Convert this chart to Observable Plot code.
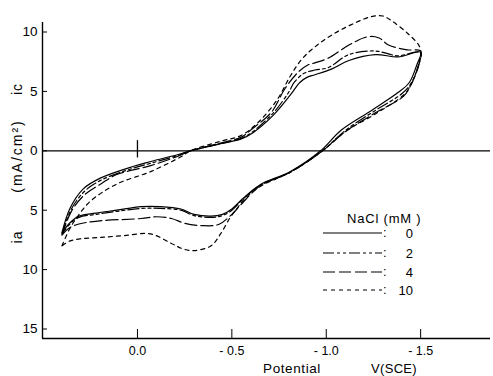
<!DOCTYPE html>
<html><head><meta charset="utf-8">
<script src="https://cdn.jsdelivr.net/npm/d3@7"></script>
<script src="https://cdn.jsdelivr.net/npm/@observablehq/plot@0.6"></script>
<style>body{margin:0;background:#fff} svg{display:block}</style>
</head><body><div id="chart"></div>
<script>
// x value = -E (V vs SCE); current density in mA/cm2: ic positive, ia negative
const naclLevels = ["0", "2", "4", "10"];
const dashPatterns = [null, "11,3,3,3,3,3", "12,4", "4,4"];

const potential0 = [-0.40,-0.356,-0.287,-0.197,-0.02,0.07,0.23,0.28,0.44,0.55,0.61,0.72,0.81,0.86,0.90,0.94,1.03,1.12,1.26,1.38,1.5,
  1.48,1.44,1.38,1.24,1.08,0.97,0.81,0.65,0.56,0.50,0.45,0.39,0.30,0.23,0.12,0.02,-0.11,-0.22,-0.31,-0.36,-0.40];
const current0 = [-6.9,-4.8,-3.2,-2.3,-1.3,-0.9,-0.25,0,0.6,1.0,1.5,3.0,4.7,5.75,6.2,6.4,6.9,7.6,8.1,7.9,8.3,
  7.25,5.75,4.9,3.4,1.75,0,-1.75,-2.85,-4.0,-4.9,-5.35,-5.5,-5.35,-4.9,-4.7,-4.7,-5.0,-5.25,-5.5,-6.1,-6.9];

const potential2 = [-0.40,-0.35,-0.28,-0.19,-0.02,0.07,0.23,0.28,0.44,0.55,0.61,0.72,0.80,0.83,0.88,0.94,1.01,1.12,1.26,1.38,1.5,
  1.49,1.45,1.40,1.26,1.10,0.98,0.81,0.65,0.56,0.50,0.45,0.39,0.30,0.23,0.12,0.02,-0.11,-0.22,-0.31,-0.36,-0.40];
const current2 = [-7.0,-4.9,-3.4,-2.45,-1.45,-1.05,-0.3,0,0.6,1.05,1.6,3.2,4.9,5.75,6.5,6.8,7.0,8.1,8.4,8.0,8.3,
  7.3,5.7,4.8,3.4,1.7,0,-1.8,-2.9,-4.05,-5.0,-5.45,-5.6,-5.45,-5.0,-4.85,-4.85,-5.1,-5.35,-5.6,-6.2,-7.0];

const potential4 = [-0.40,-0.35,-0.28,-0.19,-0.11,0.07,0.23,0.28,0.44,0.55,0.60,0.71,0.78,0.85,0.90,0.94,1.01,1.12,1.22,1.28,1.33,1.43,1.5,
  1.49,1.45,1.41,1.26,1.10,0.98,0.81,0.65,0.55,0.50,0.43,0.34,0.25,0.18,0.10,0.02,-0.2,-0.32,-0.37,-0.40];
const current4 = [-7.1,-5.1,-3.7,-2.75,-2.0,-1.25,-0.35,0,0.65,1.15,1.75,3.25,5.2,6.6,7.2,7.4,7.8,8.9,9.6,9.5,8.9,8.5,8.4,
  7.2,5.6,4.6,3.2,1.6,0,-1.8,-2.95,-4.5,-5.35,-6.2,-6.3,-6.1,-5.7,-5.55,-5.7,-5.9,-6.2,-6.6,-7.1];

const potential10 = [-0.40,-0.36,-0.32,-0.25,-0.11,0.07,0.23,0.28,0.44,0.55,0.64,0.74,0.81,0.87,0.94,1.03,1.13,1.24,1.30,1.35,1.43,1.49,1.5,
  1.49,1.45,1.41,1.27,1.10,0.98,0.81,0.65,0.57,0.53,0.49,0.44,0.39,0.30,0.24,0.18,0.07,-0.08,-0.20,-0.30,-0.36,-0.40];
const current10 = [-8.0,-6.6,-5.6,-4.25,-2.8,-1.75,-0.5,0,0.8,1.3,2.4,4.3,6.3,7.7,8.75,9.75,10.6,11.3,11.35,10.9,9.9,8.9,8.4,
  7.3,5.6,4.7,3.2,1.6,0,-1.8,-3.0,-4.0,-4.8,-5.65,-7.0,-8.0,-8.4,-8.25,-7.8,-7.0,-7.15,-7.3,-7.4,-7.6,-8.0];

const xTicks = [0, 0.5, 1.0, 1.5];
const yTicks = [10, 5, 0, -5, -10, -15];
const xDomain = [-0.503, 1.87];
const yDomain = [-15.8, 10.8];

const curves = [
  {nacl: "0", x: potential0, y: current0},
  {nacl: "2", x: potential2, y: current2},
  {nacl: "4", x: potential4, y: current4},
  {nacl: "10", x: potential10, y: current10}
];
const rows = c => c.x.map((x, i) => ({nacl: c.nacl, potential: x, current: c.y[i]}));

const font = "Liberation Sans, Arial, sans-serif";
const chart = Plot.plot({
  width: 493, height: 376,
  marginLeft: 42, marginRight: 3, marginTop: 22, marginBottom: 38,
  style: {fontFamily: font, fontSize: "13px", background: "#fff", color: "#000"},
  x: {domain: xDomain},
  y: {domain: yDomain},
  marks: [
    Plot.ruleY([0], {strokeWidth: 1.3}),
    Plot.ruleX([0], {y1: -0.6, y2: 0.85, strokeWidth: 1.3}),
    ...curves.map((c, i) => Plot.line(rows(c), {
      x: "potential", y: "current", curve: "catmull-rom",
      stroke: "#000", strokeWidth: 1.2, strokeDasharray: dashPatterns[i]
    })),
    Plot.ruleX([xDomain[0]], {strokeWidth: 1.4}),
    Plot.ruleY([yDomain[0]], {strokeWidth: 1.4}),
    Plot.axisY(yTicks, {tickSize: -5, tickPadding: 10, tickFormat: d => String(Math.abs(d)), fontSize: 13.5, label: null}),
    Plot.axisX(xTicks, {tickSize: -9, tickPadding: 17, tickFormat: d => d === 0 ? "0.0" : "- " + d.toFixed(1), fontSize: 12.5, label: null})
  ]
});
document.getElementById("chart").append(chart);

const svg = d3.select(chart);
// y-axis title parts
const yl = svg.append("g").attr("font-family", font).attr("font-size", 14).attr("fill", "#000").attr("text-anchor", "middle");
[["ic", 89], ["(mA/cm²)", 156], ["ia", 237]].forEach(([t, y]) => {
  yl.append("text").attr("transform", `translate(22,${y}) rotate(-90)`)
    .attr("letter-spacing", t.length > 2 ? "2px" : "1px").text(t);
});
// x-axis title
svg.append("text").attr("x", 292).attr("y", 373).attr("text-anchor", "middle")
  .attr("font-family", font).attr("font-size", 13.5).attr("letter-spacing", "0.6px").text("Potential");
svg.append("text").attr("x", 394).attr("y", 373).attr("text-anchor", "middle")
  .attr("font-family", font).attr("font-size", 13).attr("letter-spacing", "0.3px").text("V(SCE)");

// legend
const lg = svg.append("g").attr("font-family", font).attr("font-size", 13).attr("text-anchor", "start");
lg.append("text").attr("x", 347).attr("y", 223).attr("letter-spacing", "0.8px").text("NaCl (mM )");
const legendY = [233, 253, 272, 290];
naclLevels.forEach((n, i) => {
  lg.append("line").attr("x1", 323).attr("x2", 382).attr("y1", legendY[i]).attr("y2", legendY[i])
    .attr("stroke", "#000").attr("stroke-width", 1.2).attr("stroke-dasharray", dashPatterns[i]);
  lg.append("text").attr("x", 383).attr("y", legendY[i] + 4).text(":");
  lg.append("text").attr("x", 413).attr("y", legendY[i] + 5).attr("text-anchor", "end").text(n);
});
</script></body></html>
